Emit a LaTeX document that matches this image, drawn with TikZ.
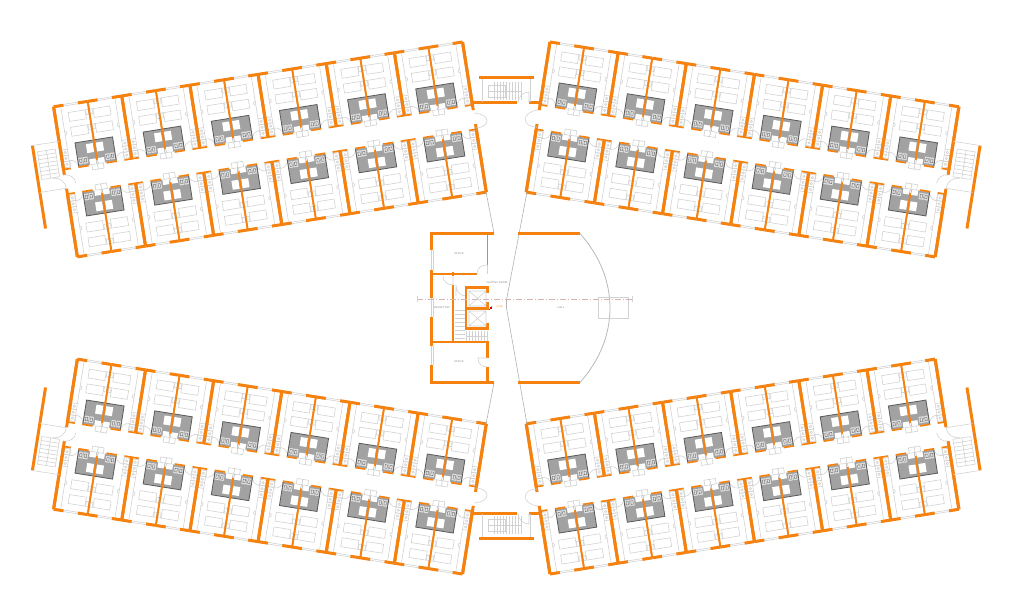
\documentclass[tikz,border=0pt]{standalone}
\definecolor{wallorange}{HTML}{F5820F}
\definecolor{linegray}{HTML}{D2D2D2}
\definecolor{bathgray}{HTML}{A2A2A2}
\definecolor{bathedge}{HTML}{5A5A5A}
\tikzset{
  wallthick/.style={draw=wallorange,line width=3pt},
  wallcore/.style={draw=wallorange,line width=2.3pt},
  wallthin/.style={draw=wallorange,line width=1.7pt},
  thinline/.style={draw=linegray,line width=0.6pt},
  graylabel/.style={text=gray,font=\sffamily\fontsize{2.6}{3}\selectfont,inner sep=0pt}
}
\newcommand{\halfroom}{%
\draw[thinline] (0,-0.8) -- (34.5,-0.8) (0,0.8) -- (34.5,0.8);
\draw[wallthick] (0,0) -- (10,0) (24.5,0) -- (34.5,0);
\draw[thinline] (4,8) rectangle (21,17);
\draw[thinline] (4,23) rectangle (21,32);
\draw[thinline] (0.8,8) rectangle (3.4,13) (0.8,23) rectangle (3.4,28);
\draw[thinline] (27.5,2) -- (27.5,44);
\draw[thinline] (27.5,26) arc (90:270:2pt);
\draw[thinline] (27.5,44) rectangle (33,50);
\draw[thinline] (27.5,50) rectangle (33,56);
\draw[thinline] (27.5,56) rectangle (33,62);
\draw[thinline] (30.2,47) circle (1.2pt) (30.2,53) circle (1.2pt) (30.2,59) circle (1.2pt);
\draw[wallthick] (34.5,0) -- (34.5,64);
\draw[wallthin] (27,63.6) -- (34.5,63.6);
\draw[thinline] (27,63.5) -- (27,55.5) arc (90:180:8pt);
\fill[bathgray] (0.5,39) rectangle (19,63);
\fill[white] (1.5,42) rectangle (8.5,51);
\fill[white] (1,57.5) rectangle (7.5,63);
\fill[gray!25] (9,54.5) rectangle (13.4,61);
\fill[gray!25] (14,54.5) rectangle (18.2,61);
\draw[bathedge,line width=0.8pt] (0.5,39) -- (19,39) -- (19,63);
\draw[bathedge,line width=0.3pt] (10.2,56) rectangle (12.4,59.5) (15,56) rectangle (17.2,59.5);
\draw[wallthin] (9,63.6) -- (19.5,63.6);
\draw[thinline,fill=white] (0,63) rectangle (5.8,68.5);
\draw[wallthin] (0,0) -- (0,59);
}
\newcommand{\wingrow}{%
\foreach \n in {0,...,5}{
  \begin{scope}[shift={(34.5+69*\n,0)}]
  \halfroom
  \begin{scope}[xscale=-1]
  \halfroom
  \end{scope}
  \end{scope}
}
\draw[wallthick] (0,0) -- (0,69);
\draw[wallthick] (414,0) -- (414,69);
}
\newcommand{\wing}[1]{%
\begin{scope}[#1]
\begin{scope}[shift={(550,42)},rotate=-9]
\wingrow
\begin{scope}[shift={(0,152)},yscale=-1]
\wingrow
\end{scope}
\draw[wallthick] (441,35) -- (441,119);
\draw[thinline] (414,35) -- (441,35) (414,82.5) -- (441,82.5);
\foreach \t in {42,46,...,70}{
  \draw[thinline] (419,\t) -- (437,\t);
}
\draw[thinline] (419,42) -- (419,70) (437,42) -- (437,70) (428,42) -- (428,70);
\draw[thinline] (414,82.5) arc (180:90:12pt);
\draw[thinline] (414,69) arc (90:180:10pt);
\end{scope}
\end{scope}
}
\newcommand{\bridgestair}{%
\draw[wallthick] (479,77.5) -- (534,77.5);
\draw[wallthick] (473,103) -- (517,103) (529,103) -- (540,103);
\draw[thinline] (482,79) -- (482,102) (530,79) -- (530,102);
\foreach \t in {494,497,...,521}{
  \draw[thinline] (\t,82) -- (\t,100);
}
\draw[thinline] (488,85) rectangle (505,97);
\draw[thinline] (488,91) -- (522,91);
\draw[thinline] (529,103) -- (529,92) arc (90:180:11pt);
\draw[thinline] (474,113) .. controls (491,114) and (491,127) .. (476,128);
\draw[thinline] (538,110) .. controls (521,112) and (521,127) .. (537,127);
}
\begin{document}
\begin{tikzpicture}[x=1pt,y=-1pt]
\useasboundingbox (0,0) rectangle (1024,604);
\wing{}
\wing{xshift=1012.5pt,xscale=-1}
\wing{yshift=-616pt,yscale=-1}
\wing{xshift=1012.5pt,xscale=-1,yshift=-616pt,yscale=-1}
\bridgestair
\begin{scope}[yshift=-616pt,yscale=-1]
\bridgestair
\end{scope}
% core
\draw[draw=gray!60,line width=0.6pt] (486,192) -- (494,233) (494,383) -- (486,424);
\draw[draw=gray!60,line width=0.6pt] (527,192) -- (506.5,300) -- (506.5,308) -- (527,424);
\draw[wallthick] (494,233.5) -- (431.5,233.5) -- (431.5,250);
\draw[wallthick] (431.5,270) -- (431.5,298) (431.5,317) -- (431.5,346) (431.5,365) -- (431.5,382.5) -- (494,382.5);
\draw[thinline] (431,250) -- (431,270) (433,250) -- (433,270) (431,298) -- (431,317) (433,298) -- (433,317) (431,346) -- (431,365) (433,346) -- (433,365);
\draw[wallthin] (487.5,233) -- (487.5,265) (431,274) -- (477,274);
\draw[thinline] (477,274) .. controls (477,268) and (481,265) .. (487.5,265);
\draw[thinline] (487.5,265) -- (487.5,274);
\draw[wallcore] (453,285) -- (453,342);
\draw[wallcore] (431,342) -- (488.5,342) (487.5,342) -- (487.5,358) (487.5,367) -- (487.5,382);
\fill[wallorange] (451.5,272) rectangle (454,276);
\draw[thinline] (453,276) -- (453,285) (443,276) .. controls (443,281) and (447,285) .. (453,285);
\draw[thinline] (456,285) .. controls (456,291) and (460,296) .. (466,296) (456,285) -- (456,296);
\draw[thinline] (487.5,358) -- (478,358) .. controls (478,364) and (482,367) .. (487.5,367);
\draw[wallcore] (487.5,293) -- (487.5,287.5) -- (466,287.5) -- (466,328.5) -- (487.5,328.5) -- (487.5,323);
\draw[wallcore] (466,308.5) -- (489,308.5) (487.5,302) -- (487.5,310);
\draw[thinline] (469,291) rectangle (486,306) (469,291) -- (486,306) (486,291) -- (469,306);
\draw[thinline] (469,311) rectangle (486,326) (469,311) -- (486,326) (486,311) -- (469,326);
\foreach \t in {310,314,...,338}{
  \draw[thinline] (455,\t) -- (465,\t);
}
\foreach \t in {466,469,...,487}{
  \draw[thinline] (\t,331) -- (\t,341);
}
\draw[thinline] (466,336) -- (487,336);
% hall
\draw[wallthick] (518,233.5) -- (580,233.5) (518,382.5) -- (580,382.5);
\draw[draw=gray!55,line width=0.8pt] (580,233.5) .. controls (600,256) and (610,282) .. (610,308) .. controls (610,334) and (600,360) .. (580,382.5);
\draw[thinline] (598,297) rectangle (628,318);
\draw[draw=red!15!linegray,line width=0.4pt,dash pattern=on 6pt off 2pt on 1pt off 2pt] (417,299) -- (632,299);
\draw[thinline] (417,296) -- (417,302) (632,296) -- (632,302);
\fill[red!80!black] (489.5,307) rectangle (491.5,309);
\draw[red!80!black,line width=0.5pt] (489,310) -- (492,306.5);
\node[graylabel] (officeup) at (459,253.5) {OFFICE};
\node[graylabel] (officedown) at (459,362) {OFFICE};
\node[graylabel] (reception) at (442,308) {RECEPTION};
\node[graylabel] (waiting) at (497,283) {WAITING ROOM};
\node[graylabel] (hall) at (561,308) {HALL};
\node[graylabel,text=wallorange] (level) at (499,307) {+0.00};
\end{tikzpicture}
\end{document}
